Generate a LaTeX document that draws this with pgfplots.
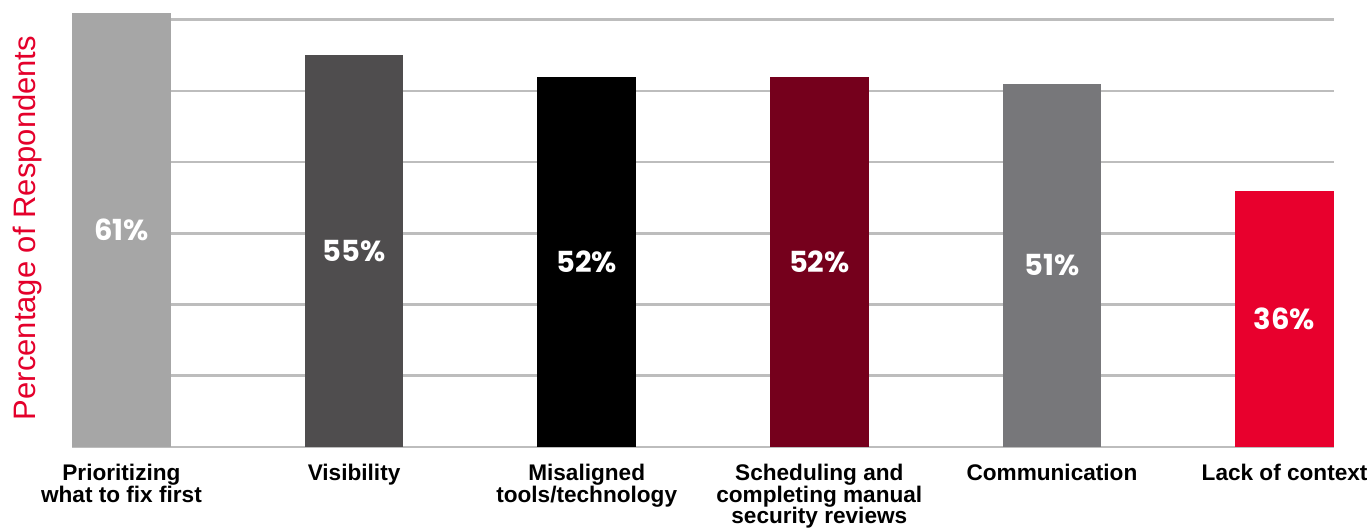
\documentclass[border=0pt]{standalone}
\usepackage{fontspec}
\setmainfont{Liberation Sans}
\newfontfamily\pctfont{Poppins}
\usepackage{pgfplots}
\pgfplotsset{compat=1.18}
\usepackage{pgfplotstable}

\definecolor{barA}{HTML}{A6A6A6}
\definecolor{barB}{HTML}{4F4D4E}
\definecolor{barC}{HTML}{000000}
\definecolor{barD}{HTML}{75001C}
\definecolor{barE}{HTML}{77777A}
\definecolor{barF}{HTML}{E8002D}
\definecolor{labelred}{HTML}{E4002B}
\definecolor{gridgray}{HTML}{BDBDBD}

% share of respondents per challenge (%)
\pgfplotstableread{
x v
0 61
1 55
2 52
3 52
4 51
5 36
}\shares

\begin{document}
\begin{tikzpicture}
\begin{axis}[
  name=ax,
  scale only axis,
  width=631pt, height=219pt,
  xmin=-0.2125, xmax=5.2125,
  ymin=0, ymax=61.5,
  ytick={0,10,...,60}, yticklabels={},
  ymajorgrids, grid style={line width=1.3pt, color=gridgray},
  axis line style={draw=none},
  major tick length=0pt,
  xtick={0,...,5},
  xticklabels={
    {Prioritizing\\what to fix first},
    {Visibility},
    {Misaligned\\tools/technology},
    {Scheduling and\\completing manual\\security reviews},
    {Communication},
    {Lack of context}},
  xticklabel style={anchor=north, align=center, inner sep=0pt,
    font=\bfseries\fontsize{11.3}{10.8}\selectfont, yshift=-8.5pt},
  ylabel={Percentage of Respondents},
  ylabel style={at={(axis description cs:-0.0349,0.5)}, anchor=center,
    font=\fontsize{15.5}{16}\selectfont, text=labelred},
  ybar, bar width=0.425, bar shift=0pt,
  clip=false,
]
\addplot[fill=barA, draw=none] table[x=x, y=v, restrict expr to domain={\coordindex}{0:0}] {\shares};
\addplot[fill=barB, draw=none] table[x=x, y=v, restrict expr to domain={\coordindex}{1:1}] {\shares};
\addplot[fill=barC, draw=none] table[x=x, y=v, restrict expr to domain={\coordindex}{2:2}] {\shares};
\addplot[fill=barD, draw=none] table[x=x, y=v, restrict expr to domain={\coordindex}{3:3}] {\shares};
\addplot[fill=barE, draw=none] table[x=x, y=v, restrict expr to domain={\coordindex}{4:4}] {\shares};
\addplot[fill=barF, draw=none] table[x=x, y=v, restrict expr to domain={\coordindex}{5:5}] {\shares};
% value labels, centred halfway up each bar
\addplot[draw=none, fill=none,
  point meta=explicit symbolic,
  nodes near coords={\pgfplotspointmeta\%},
  nodes near coords style={anchor=center, text=white,
    font=\pctfont\bfseries\fontsize{14.5}{14.5}\selectfont}]
  table[x=x, y expr=\thisrow{v}/2, meta=v] {\shares};
\end{axis}
\pgfresetboundingbox
\path (ax.south west) ++(-36pt,-40.5pt) rectangle ++(685.5pt,264pt);
\end{tikzpicture}
\end{document}
